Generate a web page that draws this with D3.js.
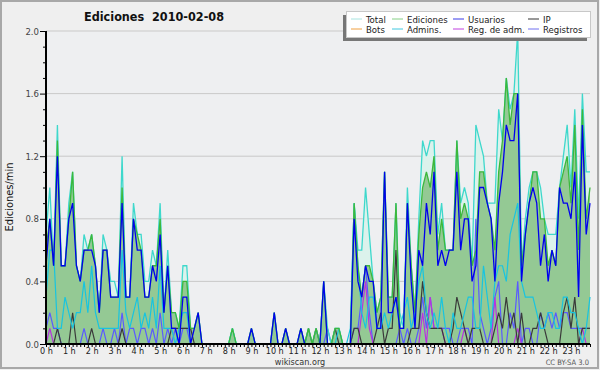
<!DOCTYPE html>
<html>
<head>
<meta charset="utf-8">
<script src="https://cdn.jsdelivr.net/npm/d3@7/dist/d3.min.js"></script>
<style>
body { margin: 0; background: #efefef; }
text { font-family: "DejaVu Sans Condensed", "DejaVu Sans", sans-serif; }
</style>
</head>
<body>
<svg width="600" height="370"></svg>
<script>
// one value per 10 minutes (edits/min), 144 bins
var total = [
0.7,1.0,0.5,1.4,0.5,0.5,0.9,1.1,0.5,0.4, 0.7,0.6,0.7,0.5,0.2,0.7,0.6,0.4,0.4,0.3,
1.2,0.3,0.3,0.9,0.7,0.7,0.4,0.4,0.6,0.5, 0.9,0.2,0.6,0.2,0.2,0.1,0.5,0.5,0.1,0.1,
0.2,0,0,0,0,0,0,0,0,0.1, 0,0,0,0,0.1,0,0,0,0,0,
0.2,0,0,0.1,0,0,0,0.1,0,0.1, 0,0.1,0,0.4,0.1,0,0.1,0.1,0,0,
0,0.9,0.6,0.6,1.0,0.7,0.4,0.2,0.3,1.1, 0.3,0.3,0.9,0.2,0.1,1.0,0.5,0.2,0.8,1.3,
1.2,1.3,1.3,0.7,0.9,0.6,0.6,0.6,1.3,0.9, 1.0,0.9,0.5,1.4,1.3,1.2,0.9,0.9,0.9,1.5,
1.3,1.7,1.5,1.6,2.0,0.5,0.8,1.0,1.1,1.1, 1.0,0.8,0.7,0.7,0.7,1.0,1.2,1.4,1.0,1.5,
0.8,1.6,1.1,1.1];
var ediciones = [
0.6,0.8,0.5,1.3,0.5,0.5,0.8,1.1,0.5,0.4, 0.6,0.6,0.7,0.5,0.2,0.6,0.6,0.3,0.3,0.3,
1.0,0.3,0.3,0.8,0.7,0.6,0.3,0.3,0.5,0.5, 0.8,0.2,0.5,0.2,0.2,0.1,0.4,0.4,0.1,0.1,
0.2,0,0,0,0,0,0,0,0,0.1, 0,0,0,0,0.1,0,0,0,0,0,
0.2,0,0,0.1,0,0,0,0.1,0,0.1, 0,0.1,0,0.4,0,0,0.1,0.1,0,0,
0,0.9,0.5,0.3,0.5,0.5,0.4,0.2,0.3,1.1, 0.3,0.3,0.9,0.1,0.1,0.9,0.5,0.2,0.7,1.0,
1.1,1.0,1.2,0.6,0.8,0.6,0.6,0.6,1.3,0.8, 0.9,0.8,0.5,0.6,1.1,1.1,0.9,0.8,0.6,1.1,
1.3,1.7,1.4,1.6,1.6,0.5,0.7,0.9,1.1,1.1, 0.8,0.8,0.5,0.6,0.5,1.0,1.1,1.2,0.9,1.4,
0.6,1.5,0.8,1.0];
var usuarios = [
0.5,0.8,0.5,1.2,0.5,0.5,0.8,0.9,0.5,0.4, 0.6,0.6,0.6,0.5,0.2,0.6,0.6,0.3,0.3,0.3,
0.9,0.3,0.3,0.8,0.6,0.6,0.3,0.3,0.5,0.4, 0.7,0.2,0.5,0.1,0.1,0,0.3,0.3,0,0.1,
0.2,0,0,0,0,0,0,0,0,0, 0,0,0,0,0.1,0,0,0,0,0,
0.2,0,0,0.1,0,0,0,0.1,0,0, 0,0,0,0.4,0,0,0,0,0,0,
0,0.8,0.4,0.3,0.5,0.4,0.4,0.1,0.1,1.1, 0.2,0.2,0.3,0.1,0.1,0.9,0.4,0.1,0.6,0.5,
0.9,0.7,1.1,0.5,0.6,0.5,0.6,0.6,1.1,0.6, 0.8,0.8,0.4,0.5,1.0,1.0,0.9,0.8,0.4,0.9,
1.1,1.4,1.3,1.3,1.6,0.4,0.7,0.9,1.0,0.9, 0.5,0.7,0.4,0.6,0.5,1.0,0.9,0.9,0.8,1.1,
0.3,1.4,0.7,0.9];
var ip = [
0,0,0,0.1,0,0,0,0.2,0,0, 0,0,0.1,0,0,0,0,0,0,0,
0.1,0,0,0,0,0,0,0,0,0, 0,0,0,0.1,0.1,0.1,0.1,0.1,0.1,0,
0,0,0,0,0,0,0,0,0,0, 0,0,0,0,0,0,0,0,0,0,
0,0,0,0,0,0,0,0,0,0.1, 0,0.1,0,0,0,0,0.1,0,0,0,
0,0.1,0.1,0,0,0,0,0.1,0.2,0, 0.1,0.1,0.6,0,0,0,0.1,0.1,0.1,0.4,
0.2,0.1,0.1,0.1,0.1,0,0,0.1,0.3,0.2, 0.1,0,0.1,0.1,0.1,0,0,0,0.1,0.2,
0.1,0.3,0.1,0.2,0,0.2,0,0,0.1,0.1, 0.2,0.1,0,0,0,0,0.2,0.3,0.1,0.3,
0,0.1,0.1,0.1];
var bots = d3.range(144).map(function() { return 0; });
var admins = [
0.3,0.6,0.6,0.1,0.1,0.3,0.2,0.1,0.2,0.2, 0.4,0.2,0.5,0.2,0.1,0.1,0.1,0.1,0.1,0.1,
0.6,0.2,0.1,0.2,0.3,0.1,0.2,0.1,0.3,0.1, 0.5,0.1,0.1,0.1,0,0.1,0.2,0.2,0,0,
0,0,0,0,0,0,0,0,0,0.1, 0,0,0,0,0,0,0,0,0,0,
0,0,0,0,0,0,0,0,0,0, 0,0,0,0,0,0,0,0.1,0,0,
0.1,0.9,0.5,0.2,0.1,0.3,0.3,0.1,0.1,0.2, 0.1,0.2,0.3,0.1,0.2,0.3,0.1,0.2,0.4,0.5,
0.2,0.1,0.2,0.1,0.3,0.1,0,0.2,0.1,0.1, 0.2,0.3,0.3,0.1,0.1,0.5,0.3,0.1,0.4,0.5,
0.5,0.4,0.7,0.8,0.9,0.4,0.3,0.3,0.3,0.2, 0.1,0.1,0.2,0.2,0.1,0.1,0.3,0.3,0.2,0.2,
0.1,0,0.1,0.3];
var regAdm = [
0,0.1,0,0,0,0,0,0,0,0, 0,0,0,0,0,0,0,0,0,0,
0,0,0,0,0,0,0,0,0,0, 0,0,0,0,0,0,0,0,0,0,
0,0,0,0,0,0,0,0,0,0, 0,0,0,0,0,0,0,0,0,0,
0,0,0,0,0,0,0,0,0,0, 0,0,0,0,0,0,0,0,0,0,
0,0,0,0.2,0.4,0.1,0,0,0,0, 0,0,0,0,0,0,0,0,0,0.2,
0,0.3,0.1,0.1,0.1,0,0,0,0,0, 0.1,0,0,0,0,0,0,0,0.3,0,
0,0,0,0,0.1,0,0,0,0,0, 0,0,0,0,0,0,0,0,0,0,
0,0.1,0,0];
var registros = [
0.1,0.2,0.1,0.1,0,0,0,0,0,0, 0.1,0,0,0,0,0.1,0,0,0.1,0,
0.2,0,0.1,0.1,0,0.1,0.1,0,0.1,0, 0.2,0,0.1,0,0.1,0,0.1,0.1,0,0,
0,0,0,0,0,0,0,0,0,0, 0,0,0,0,0,0,0,0,0,0,
0,0,0,0,0,0,0,0,0,0, 0,0,0,0,0.1,0,0,0,0,0,
0,0.1,0.1,0.3,0.5,0.2,0,0,0,0, 0,0,0,0.1,0,0.1,0,0,0.1,0.3,
0.1,0.3,0.1,0.1,0.1,0.1,0.1,0,0,0.1, 0.1,0.1,0,0.8,0.2,0.1,0,0.1,0.3,0.4,
0,0,0.2,0.1,0.4,0,0.1,0.1,0,0, 0.2,0.1,0.2,0.1,0.2,0.1,0.2,0.2,0.1,0.1,
0.1,0.1,0.1,0.1];

var yTicks = [0, 0.4, 0.8, 1.2, 1.6, 2.0];
var legNames = ["Total", "Ediciones", "Usuarios", "IP", "Bots", "Admins.", "Reg. de adm.", "Registros"];

var svg = d3.select("svg");

// background + frame
svg.append("rect").attr("x", 1).attr("y", 1).attr("width", 597).attr("height", 367)
    .attr("fill", "#efefef").attr("stroke", "#a8a8a8").attr("stroke-width", 2);

var x = d3.scaleLinear().domain([0, 143]).range([46, 590]);
var y = d3.scaleLinear().domain([0, 2]).range([344, 31]);

svg.append("rect").attr("x", 46).attr("y", 31).attr("width", 544).attr("height", 313)
    .attr("fill", "#eeeff1");

function isMajor(d) {
    return yTicks.some(function(t) { return Math.abs(t - d) < 1e-6; });
}

// grid
svg.append("g").selectAll("line")
    .data(yTicks.slice(1))
    .enter()
    .append("line")
    .attr("x1", 46).attr("x2", 590)
    .attr("y1", function(d) { return y(d); })
    .attr("y2", function(d) { return y(d); })
    .attr("stroke", "#c9c9c9");

var area = function(arr) {
    return d3.area()
        .x(function(d, i) { return x(i); })
        .y0(y(0))
        .y1(function(d) { return y(d); })(arr);
};
var line = function(arr) {
    return d3.line()
        .x(function(d, i) { return x(i); })
        .y(function(d) { return y(d); })(arr);
};

svg.append("path").attr("d", area(total)).attr("fill", "#dcf2ec");
svg.append("path").attr("d", area(ediciones)).attr("fill", "#94c994");

var series = [
    { v: registros, c: "#5a5aff", w: 1.2 },
    { v: regAdm, c: "#b832e0", w: 1.2 },
    { v: ip, c: "#3a3a3a", w: 1.2 },
    { v: bots, c: "#f0a040", w: 1 },
    { v: admins, c: "#18c4e0", w: 1.2 },
    { v: total, c: "#3ed8cc", w: 1.3 },
    { v: ediciones, c: "#3cb83c", w: 1.3 },
    { v: usuarios, c: "#0000ee", w: 1.3 }
];

svg.append("g").selectAll("path")
    .data(series)
    .enter()
    .append("path")
    .attr("d", function(d) { return line(d.v); })
    .attr("fill", "none")
    .attr("stroke", function(d) { return d.c; })
    .attr("stroke-width", function(d) { return d.w; });

// axes
var xAxis = d3.axisBottom(x)
    .tickValues(d3.range(0, 144))
    .tickSize(3)
    .tickPadding(1)
    .tickFormat(function(d) { return d % 6 == 0 ? (d / 6) + " h" : ""; });
var gx = svg.append("g").attr("transform", "translate(0,344)").call(xAxis);
gx.select(".domain").attr("stroke", "#000").attr("stroke-width", 2).attr("d", "M46,0H590");
gx.selectAll("line").attr("stroke", "#000");
gx.selectAll("text").attr("font-size", 9).attr("fill", "#222");

var yAxis = d3.axisLeft(y)
    .tickValues(d3.range(0, 21).map(function(k) { return k / 10; }))
    .tickSize(3)
    .tickPadding(2)
    .tickFormat(function(d) { return isMajor(d) ? d3.format(".1f")(d) : ""; });
var gy = svg.append("g").attr("transform", "translate(46,0)").call(yAxis);
gy.select(".domain").attr("stroke", "#000").attr("stroke-width", 2).attr("d", "M0,31V344");
gy.selectAll(".tick line").attr("stroke", "#000")
    .attr("x2", function(d) { return isMajor(d) ? -6 : -3; });
gy.selectAll("text").attr("font-size", 9.5).attr("fill", "#444")
    .attr("x", function(d) { return isMajor(d) ? -7 : 0; });

// texts
svg.append("text").attr("x", 154).attr("y", 21).attr("text-anchor", "middle")
    .attr("font-size", 12.5).attr("font-weight", "bold").attr("fill", "#111")
    .style("white-space", "pre")
    .text("Ediciones  2010-02-08");

svg.append("text").attr("transform", "translate(13,197) rotate(-90)")
    .attr("text-anchor", "middle").attr("font-size", 11).attr("fill", "#111")
    .text("Ediciones/min");

svg.append("text").attr("x", 300).attr("y", 365).attr("text-anchor", "middle")
    .attr("font-size", 9).attr("fill", "#333").text("wikiscan.org");
svg.append("text").attr("x", 589).attr("y", 365).attr("text-anchor", "end")
    .attr("font-size", 7.5).attr("fill", "#555").text("CC BY-SA 3.0");

// legend
var legColors = ["#a8e4e0", "#86d086", "#3a3ae8", "#333333", "#f0a040", "#40c8e0", "#c040e0", "#7070f0"];
var legX = [351, 392, 453, 528];

var leg = svg.append("g");
leg.append("rect").attr("x", 343).attr("y", 15).attr("width", 244).attr("height", 26).attr("fill", "#777");
leg.append("rect").attr("x", 346.5).attr("y", 11.5).attr("width", 244).attr("height", 26)
    .attr("fill", "#fff").attr("stroke", "#c8c8c8");

var item = leg.selectAll(".item")
    .data(legNames)
    .enter()
    .append("g")
    .attr("class", "item")
    .attr("transform", function(d, i) { return "translate(" + legX[i % 4] + "," + (19 + Math.floor(i / 4) * 10) + ")"; });
item.append("line").attr("x1", 0).attr("x2", 11).attr("y1", 0).attr("y2", 0)
    .attr("stroke", function(d, i) { return legColors[i]; });
item.append("text").attr("x", 15).attr("y", 3.5).attr("font-size", 9.5).attr("fill", "#222")
    .text(function(d) { return d; });
</script>
</body>
</html>
